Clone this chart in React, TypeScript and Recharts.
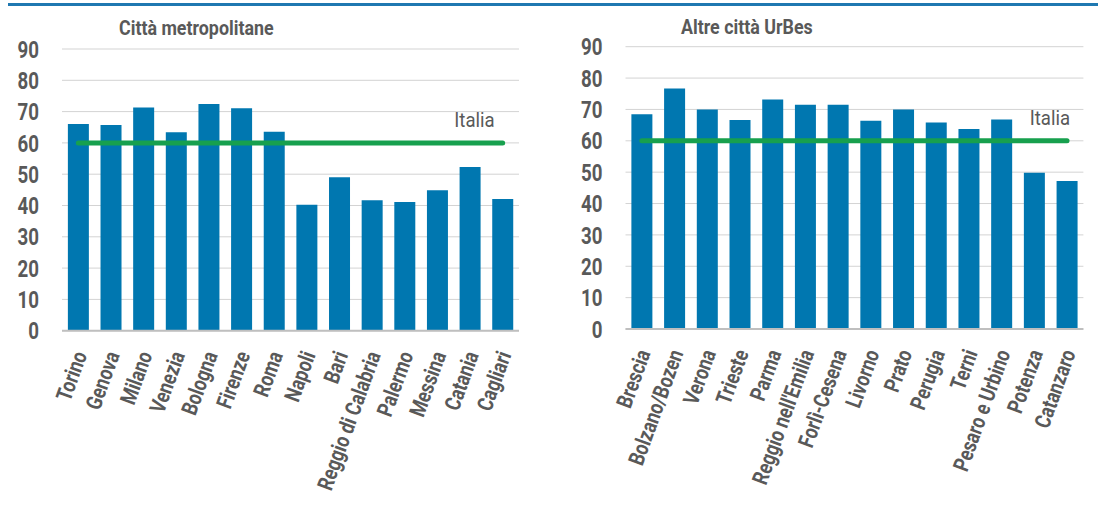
import React from 'react';
import { ComposedChart, Bar, Line, XAxis, YAxis, CartesianGrid, LabelList } from 'recharts';

const metroCities = ['Torino', 'Genova', 'Milano', 'Venezia', 'Bologna', 'Firenze', 'Roma', 'Napoli', 'Bari', 'Reggio di Calabria', 'Palermo', 'Messina', 'Catania', 'Cagliari'];
const metroValues = [66.0, 65.7, 71.3, 63.4, 72.4, 71.1, 63.6, 40.2, 49.0, 41.7, 41.1, 44.9, 52.3, 42.1];
const otherCities = ['Brescia', 'Bolzano/Bozen', 'Verona', 'Trieste', 'Parma', "Reggio nell'Emilia", 'Forlì-Cesena', 'Livorno', 'Prato', 'Perugia', 'Terni', 'Pesaro e Urbino', 'Potenza', 'Catanzaro'];
const otherValues = [68.5, 76.7, 70.0, 66.6, 73.2, 71.5, 71.5, 66.4, 70.0, 65.8, 63.8, 66.8, 49.8, 47.2];
const italiaValue = 60;
const italiaLabel = 'Italia';
const yTicks = [0, 10, 20, 30, 40, 50, 60, 70, 80, 90];
const metroTitle = 'Città metropolitane';
const otherTitle = 'Altre città UrBes';

const FONT = 'Roboto, "DejaVu Sans", sans-serif';
const TEXT = '#595959';
const BAR = '#0077b0';
const GREEN = '#17a04e';

const YTick = (props: any) => {
  const { x, y, payload } = props;
  return (
    <g transform={`translate(${x},${y})`}>
      <text transform="scale(0.78,1)" textAnchor="end" dy="0.36em" fontSize={24} fontWeight="bold" fill={TEXT} fontFamily={FONT}>
        {payload.value}
      </text>
    </g>
  );
};

const XTick = (props: any) => {
  const { x, y, payload } = props;
  return (
    <g transform={`translate(${x + 9},${y + 24})`}>
      <text transform="rotate(-70) scale(0.81,1)" textAnchor="end" fontSize={22} fontWeight="bold" fill={TEXT} fontFamily={FONT}>
        {payload.value}
      </text>
    </g>
  );
};

type PanelProps = {
  names: string[];
  values: number[];
  title: string;
  titleX: number;
  titleY: number;
  width: number;
  yAxisWidth: number;
  marginRight: number;
  marginTop: number;
  marginBottom: number;
  italiaDx: number;
};

const Panel = (p: PanelProps) => {
  const data = p.names.map((name, i) => ({ name, value: p.values[i], italia: italiaValue }));
  const last = data.length - 1;
  const renderItalia = (lp: any) => {
    if (lp.index !== last) return null;
    return (
      <g transform={`translate(${lp.x + p.italiaDx},${lp.y - 16})`}>
        <text transform="scale(0.93,1)" textAnchor="end" fontSize={20} fill={TEXT} fontFamily={FONT}>
          {italiaLabel}
        </text>
      </g>
    );
  };
  return (
    <div style={{ position: 'relative', width: p.width, height: 521 }}>
      <ComposedChart
        width={p.width}
        height={521}
        data={data}
        margin={{ top: p.marginTop, right: p.marginRight, bottom: p.marginBottom, left: 0 }}
        barCategoryGap="18%"
      >
        <CartesianGrid vertical={false} stroke="#d3d3d3" strokeWidth={1} />
        <XAxis
          dataKey="name"
          interval={0}
          height={180}
          tickLine={false}
          tickSize={0}
          tickMargin={0}
          axisLine={{ stroke: '#bfbfbf', strokeWidth: 2 }}
          tick={<XTick />}
        />
        <YAxis
          domain={[0, 90]}
          ticks={yTicks}
          interval={0}
          width={p.yAxisWidth}
          axisLine={false}
          tickLine={false}
          tickSize={0}
          tickMargin={23}
          tick={<YTick />}
        />
        <Bar dataKey="value" fill={BAR} isAnimationActive={false} />
        <Line
          dataKey="italia"
          stroke={GREEN}
          strokeWidth={5}
          strokeLinecap="round"
          dot={false}
          activeDot={false}
          isAnimationActive={false}
        >
          <LabelList dataKey="italia" content={renderItalia} />
        </Line>
      </ComposedChart>
      <svg width={p.width} height={60} style={{ position: 'absolute', left: 0, top: 0, pointerEvents: 'none' }}>
        <g transform={`translate(${p.titleX},${p.titleY})`}>
          <text transform="scale(0.85,1)" fontSize={21} fontWeight="bold" fill={TEXT} fontFamily={FONT}>
            {p.title}
          </text>
        </g>
      </svg>
    </div>
  );
};

export default function App() {
  return (
    <div style={{ position: 'absolute', left: 0, top: 0, width: 1101, height: 521, background: '#ffffff', overflow: 'hidden' }}>
      <div style={{ position: 'absolute', left: 8, top: 3, width: 1090, height: 3, background: '#1f78b1' }} />
      <div style={{ position: 'absolute', left: 0, top: 0 }}>
        <Panel
          names={metroCities}
          values={metroValues}
          title={metroTitle}
          titleX={119}
          titleY={35}
          width={550}
          yAxisWidth={62}
          marginRight={31}
          marginTop={49}
          marginBottom={10.3}
          italiaDx={-8}
        />
      </div>
      <div style={{ position: 'absolute', left: 550, top: 0 }}>
        <Panel
          names={otherCities}
          values={otherValues}
          title={otherTitle}
          titleX={131}
          titleY={34.3}
          width={551}
          yAxisWidth={75.5}
          marginRight={17.6}
          marginTop={46.7}
          marginBottom={12}
          italiaDx={3}
        />
      </div>
    </div>
  );
}
